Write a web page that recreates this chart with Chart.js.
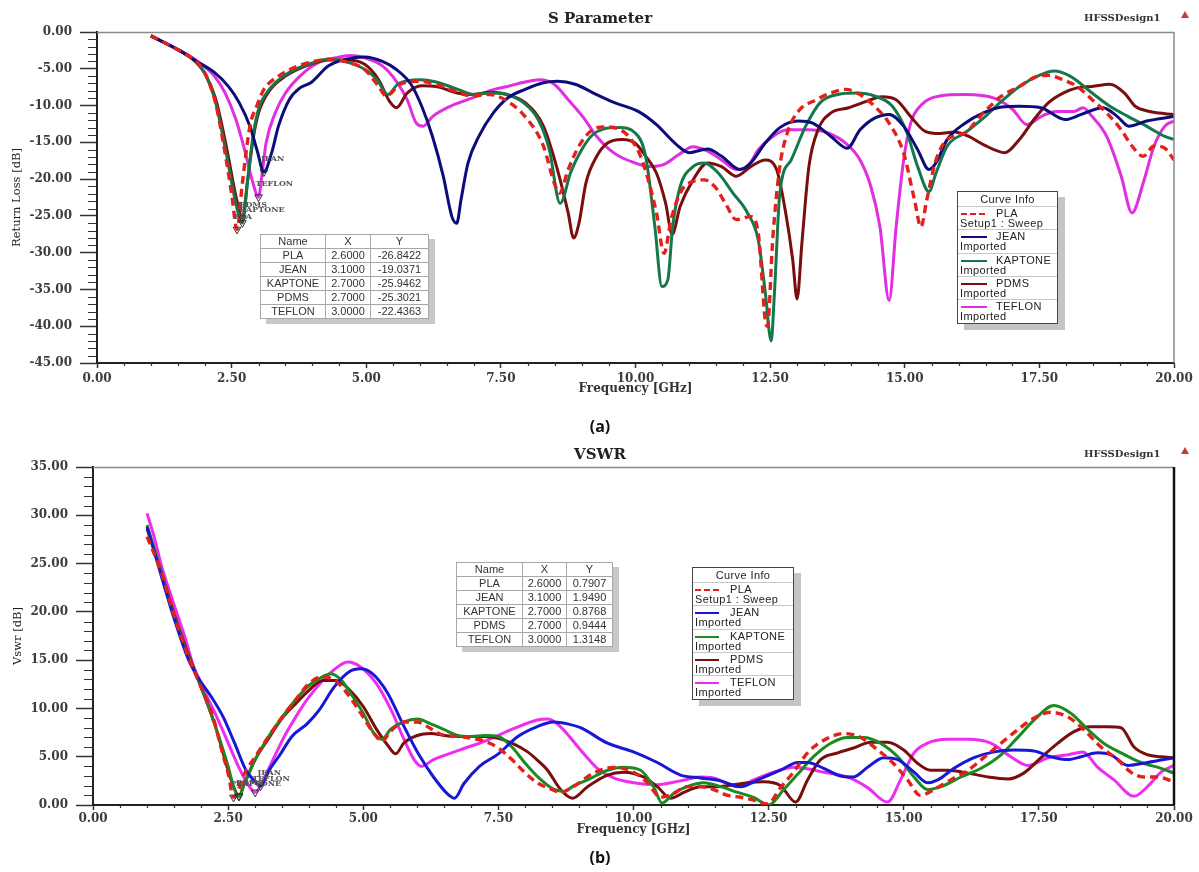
<!DOCTYPE html>
<html>
<head>
<meta charset="utf-8">
<script src="https://cdn.jsdelivr.net/npm/chart.js@4.4.0/dist/chart.umd.min.js"></script>
<style>
  html,body{margin:0;padding:0;background:#fff;}
  body{width:1199px;height:872px;position:relative;overflow:hidden;font-family:'Liberation Sans',Arial,sans-serif;}
  canvas{position:absolute;left:0;}
  .txt{position:absolute;white-space:nowrap;}
  .ttl{font-family:'DejaVu Serif',serif;font-weight:bold;font-size:15px;color:#222;text-align:center;width:300px;line-height:18px;}
  .des{font-family:'DejaVu Serif',serif;font-weight:bold;font-size:10px;color:#333;line-height:12px;}
  .cap{font-family:'Open Sans','DejaVu Sans',sans-serif;font-weight:bold;font-size:16px;color:#111;text-align:center;width:80px;line-height:20px;}
  .tri{position:absolute;width:0;height:0;border-left:4px solid transparent;border-right:4px solid transparent;border-bottom:7px solid #c83a3a;}
  .tb{position:absolute;border-collapse:collapse;table-layout:fixed;font-size:11px;color:#333;background:#fff;border:1.5px solid #555;box-shadow:6px 5px 0 #c8c8c8;}
  .tb td{border:1px solid #a8a8a8;height:13px;line-height:13px;padding:0;text-align:center;overflow:hidden;}
  .leg{position:absolute;background:#fff;border:1.5px solid #444;box-shadow:7px 6px 0 #c4c4c4;font-size:11px;color:#222;box-sizing:border-box;letter-spacing:0.4px;}
  .lh{height:14px;line-height:14px;text-align:center;border-bottom:1px solid #c8c8c8;}
  .le{height:23.3px;position:relative;border-bottom:1px solid #c8c8c8;box-sizing:border-box;}
  .le:last-child{border-bottom:none;}
  .le .l1{position:absolute;top:1px;line-height:11px;}
  .le .l2{position:absolute;left:2px;top:11px;line-height:11px;}
  .le .ls{position:absolute;top:6px;height:2px;}
</style>
</head>
<body>
<canvas id="c1" width="1199" height="440" style="top:0px"></canvas>
<canvas id="c2" width="1199" height="432" style="top:440px"></canvas>

<div class="txt ttl" style="left:450px;top:9px;">S Parameter</div>
<div class="txt des" style="left:1084px;top:12px;">HFSSDesign1</div>
<div class="tri" style="left:1181px;top:11px;"></div>
<div class="txt cap" style="left:560px;top:416px;">(a)</div>

<div class="txt ttl" style="left:450px;top:445px;">VSWR</div>
<div class="txt des" style="left:1084px;top:448px;">HFSSDesign1</div>
<div class="tri" style="left:1181px;top:447px;"></div>
<div class="txt cap" style="left:560px;top:847px;">(b)</div>

<script>
// ---------------- DATA ----------------
const seriesNames   = ['PLA', 'JEAN', 'KAPTONE', 'PDMS', 'TEFLON'];
const seriesSources = ['Setup1 : Sweep', 'Imported', 'Imported', 'Imported', 'Imported'];

// marker table values
const markerX     = [2.6, 3.1, 2.7, 2.7, 3.0];
const rlMarkerY   = [-26.8422, -19.0371, -25.9462, -25.3021, -22.4363];
const vswrMarkerY = [0.7907, 1.9490, 0.8768, 0.9444, 1.3148];

// axis ranges / tick steps
const freqRange = [0, 20];
const rlRange   = [-45, 0];
const vswrRange = [0, 35];

// (a) Return loss [dB] vs frequency [GHz]
const rlPLA_f = [1.0,1.5,1.75,2.0,2.2,2.4,2.5,2.6,2.7,2.84,2.97,3.1,3.37,3.64,3.97,4.3,4.6,4.97,5.23,5.37,5.63,5.96,6.3,6.63,6.96,7.29,7.62,7.95,8.29,8.49,8.59,8.75,8.95,9.2,9.45,9.72,9.92,10.12,10.39,10.53,10.66,10.86,11.07,11.27,11.47,11.67,11.87,12.14,12.28,12.41,12.45,12.55,12.68,12.82,13.02,13.36,13.63,13.9,14.17,14.44,14.71,14.98,15.18,15.3,15.41,15.58,15.79,16.12,16.46,16.8,17.13,17.47,17.67,17.94,18.2,18.48,18.75,19.02,19.22,19.43,19.63,19.83,20.0];
const rlPLA_v = [-0.5,-2.4,-3.5,-5.5,-9.6,-17.4,-22.0,-26.84,-20.5,-12.8,-10.0,-7.8,-6.0,-4.9,-4.1,-3.7,-4.0,-5.1,-7.4,-8.7,-7.1,-6.7,-7.1,-8.0,-8.7,-8.5,-9.4,-11.5,-15.5,-20.5,-21.9,-18.7,-15.5,-13.3,-12.9,-13.3,-14.6,-17.4,-24.6,-30.1,-25.5,-21.5,-20.3,-20.1,-21.0,-23.3,-25.5,-25.1,-27.4,-39.2,-40.0,-28.0,-18.3,-13.7,-10.8,-9.2,-8.3,-7.8,-8.5,-10.1,-12.4,-16.5,-22.8,-26.5,-22.8,-17.4,-14.6,-13.7,-11.0,-8.7,-7.4,-6.0,-5.9,-6.5,-7.4,-9.2,-11.0,-13.3,-15.5,-16.9,-15.5,-15.8,-17.4];

const rlJEAN_f = [1.0,1.5,1.85,2.18,2.44,2.64,2.84,2.97,3.1,3.24,3.37,3.57,3.77,3.97,4.3,4.63,4.97,5.3,5.56,5.83,6.03,6.23,6.43,6.59,6.68,6.76,6.89,7.09,7.36,7.62,7.95,8.29,8.55,8.88,9.22,9.61,10.05,10.39,10.73,11.0,11.34,11.6,11.94,12.14,12.41,12.68,13.02,13.29,13.63,13.93,14.17,14.44,14.71,14.98,15.24,15.45,15.58,15.79,16.12,16.46,16.8,17.13,17.53,17.98,18.28,18.68,18.95,19.16,19.49,20.0];
const rlJEAN_v = [-0.55,-2.4,-4.0,-5.5,-7.4,-9.6,-12.8,-16.0,-19.04,-16.5,-12.8,-9.2,-7.6,-6.9,-4.6,-3.7,-3.4,-4.0,-5.1,-7.1,-10.1,-14.2,-19.6,-25.1,-26.0,-22.8,-17.8,-14.2,-11.0,-9.0,-7.8,-6.9,-6.7,-7.1,-8.3,-9.6,-10.8,-12.6,-15.1,-16.4,-15.9,-16.9,-18.7,-17.8,-15.1,-13.0,-12.1,-12.4,-14.2,-15.8,-13.3,-11.7,-11.2,-12.8,-16.0,-18.7,-17.8,-14.6,-12.4,-11.0,-10.2,-10.1,-10.3,-11.9,-11.2,-10.3,-11.5,-12.8,-12.1,-11.5];

const rlKAP_f = [1.0,1.5,1.75,2.0,2.2,2.4,2.6,2.7,2.8,2.9,3.0,3.2,3.5,4.0,4.3,4.6,5.0,5.2,5.4,5.6,6.0,6.3,6.7,7.0,7.3,7.6,7.9,8.2,8.4,8.6,8.8,9.0,9.2,9.4,9.7,9.99,10.19,10.36,10.49,10.6,10.69,10.83,11.07,11.27,11.54,11.81,12.08,12.28,12.41,12.52,12.58,12.68,12.89,13.16,13.43,13.76,14.1,14.44,14.77,15.04,15.24,15.45,15.58,15.79,16.12,16.46,16.8,17.13,17.47,17.77,18.07,18.48,18.81,19.15,19.49,19.83,20.0];
const rlKAP_v = [-0.5,-2.4,-3.5,-5.6,-9.5,-16.5,-24.0,-25.95,-20.0,-14.0,-10.5,-7.8,-5.8,-4.2,-3.7,-4.0,-5.2,-6.5,-8.5,-7.0,-6.5,-6.8,-7.8,-8.5,-8.3,-8.5,-9.5,-12.0,-16.0,-23.3,-19.0,-16.0,-14.0,-13.2,-13.0,-13.7,-17.0,-26.5,-34.6,-33.7,-26.5,-21.0,-18.3,-17.8,-19.2,-21.9,-24.6,-28.3,-35.4,-42.0,-35.5,-21.9,-17.4,-12.8,-9.6,-8.5,-8.3,-8.7,-10.1,-13.7,-18.3,-21.7,-19.2,-15.5,-13.7,-11.7,-9.4,-7.4,-6.0,-5.3,-6.0,-8.3,-10.1,-11.5,-12.8,-14.2,-14.6];

const rlPDMS_f = [1.0,1.5,1.75,2.0,2.2,2.4,2.6,2.7,2.8,2.9,3.0,3.2,3.5,4.0,4.3,4.6,4.97,5.23,5.43,5.56,5.76,6.03,6.3,6.69,6.96,7.29,7.62,7.95,8.29,8.55,8.75,8.85,8.95,9.08,9.28,9.48,9.75,9.99,10.19,10.39,10.56,10.68,10.83,11.07,11.34,11.6,11.87,12.14,12.41,12.62,12.78,12.92,13.0,13.09,13.22,13.39,13.63,13.96,14.3,14.57,14.84,15.11,15.38,15.65,15.92,16.19,16.46,16.86,17.13,17.4,17.67,17.94,18.2,18.48,18.81,19.08,19.28,19.55,19.83,20.0];
const rlPDMS_v = [-0.5,-2.4,-3.5,-5.6,-9.0,-15.5,-23.0,-25.3,-20.0,-14.5,-11.0,-8.0,-6.0,-4.3,-3.8,-3.8,-4.4,-6.5,-9.4,-10.3,-8.3,-7.3,-7.4,-8.3,-8.5,-8.2,-8.5,-9.6,-12.8,-18.7,-24.6,-28.0,-26.0,-20.5,-16.9,-15.1,-14.6,-15.1,-16.9,-19.2,-23.3,-27.5,-23.7,-20.1,-17.8,-18.3,-19.6,-18.3,-17.4,-18.7,-24.2,-31.0,-36.3,-28.7,-18.3,-13.3,-11.0,-10.3,-9.4,-8.8,-9.2,-11.5,-13.5,-13.8,-13.6,-14.2,-15.3,-16.4,-14.6,-11.9,-9.6,-8.3,-7.6,-7.4,-7.1,-8.3,-10.1,-10.8,-11.1,-11.2];

const rlTEF_f = [1.0,1.5,1.91,2.18,2.38,2.58,2.74,2.88,3.0,3.06,3.14,3.31,3.5,3.77,4.1,4.44,4.7,4.97,5.3,5.56,5.76,5.93,6.06,6.23,6.56,6.96,7.29,7.62,7.95,8.22,8.49,8.75,9.02,9.28,9.61,9.99,10.26,10.53,10.8,11.07,11.34,11.6,11.87,12.08,12.28,12.55,12.82,13.22,13.56,13.9,14.17,14.37,14.54,14.71,14.84,14.98,15.11,15.31,15.65,16.12,16.66,17.0,17.27,17.53,17.81,18.14,18.31,18.48,18.75,19.02,19.22,19.43,19.63,19.83,20.0];
const rlTEF_v = [-0.55,-2.4,-4.2,-6.0,-8.3,-11.9,-16.0,-20.1,-22.44,-19.6,-15.1,-11.0,-8.3,-6.0,-4.2,-3.5,-3.2,-3.5,-4.6,-6.7,-9.2,-12.4,-12.8,-11.5,-10.1,-9.0,-8.0,-7.4,-6.8,-6.5,-7.1,-9.2,-11.5,-14.2,-16.5,-17.8,-18.3,-18.0,-16.7,-15.6,-16.2,-17.4,-18.7,-18.3,-16.0,-14.2,-13.3,-13.3,-13.7,-15.1,-17.4,-21.0,-26.5,-36.5,-26.5,-17.4,-12.4,-9.9,-8.7,-8.5,-9.0,-10.5,-12.6,-11.5,-10.8,-10.8,-10.3,-11.5,-14.2,-19.6,-24.6,-20.5,-15.5,-12.8,-12.1];

// (b) VSWR vs frequency [GHz]
const vsPLA_f = [1.0,1.27,1.49,1.77,2.0,2.2,2.4,2.5,2.6,2.7,2.8,3.0,3.25,3.5,3.75,4.0,4.25,4.5,4.75,5.0,5.2,5.35,5.5,5.75,6.0,6.25,6.5,6.75,7.0,7.25,7.5,7.75,8.0,8.25,8.5,8.65,8.89,9.26,9.63,10.0,10.26,10.5,10.74,10.99,11.24,11.48,11.74,11.98,12.22,12.48,12.72,12.96,13.22,13.52,13.89,14.2,14.52,14.81,15.07,15.31,15.56,15.87,16.19,16.48,16.8,17.11,17.41,17.72,18.04,18.33,18.65,18.96,19.2,19.44,19.7,20.0];
const vsPLA_v = [27.8,24.0,19.8,15.3,12.2,9.5,5.3,3.3,0.79,1.7,3.2,5.0,7.1,9.1,10.9,12.6,13.3,12.8,11.2,9.1,7.4,6.6,7.6,8.6,8.6,7.9,7.2,7.1,6.9,6.6,5.9,4.7,3.3,2.2,1.6,1.3,1.9,3.3,3.9,3.4,2.3,0.8,1.2,1.9,1.9,1.6,1.0,0.8,0.5,0.1,1.8,3.4,5.4,6.7,7.4,7.0,5.7,4.3,2.6,1.0,1.6,2.6,3.6,4.9,6.4,7.8,9.0,9.6,9.1,7.8,6.0,4.7,3.4,2.9,2.9,2.4];

const vsJEAN_f = [1.0,1.27,1.49,1.77,1.98,2.19,2.41,2.62,2.83,2.97,3.1,3.26,3.47,3.68,3.96,4.18,4.46,4.74,4.95,5.17,5.45,5.73,6.02,6.3,6.55,6.69,6.86,7.15,7.5,7.86,8.21,8.52,8.78,9.02,9.52,10.0,10.44,10.87,11.24,11.61,11.98,12.3,12.72,13.04,13.22,13.52,13.83,14.07,14.33,14.63,14.89,15.19,15.44,15.63,15.93,16.3,16.67,17.04,17.41,17.72,18.04,18.28,18.59,18.83,19.15,19.51,20.0];
const vsJEAN_v = [28.8,23.6,19.5,15.0,12.9,11.2,9.1,6.4,3.6,2.6,1.95,3.6,5.3,7.1,8.4,9.8,12.2,13.8,14.1,13.6,11.6,8.4,5.3,2.9,1.2,0.7,2.2,4.0,5.3,7.1,8.1,8.6,8.4,8.0,6.4,5.5,4.4,3.1,2.8,2.5,1.9,2.6,3.6,4.4,4.4,3.8,3.0,2.9,3.9,4.9,4.7,3.4,2.3,2.6,3.8,4.9,5.5,5.7,5.6,5.0,4.7,5.0,5.4,5.2,4.1,4.4,4.9];

const vsKAP_f = [1.0,1.27,1.5,1.77,2.0,2.25,2.5,2.6,2.7,2.8,3.0,3.25,3.5,3.75,4.0,4.25,4.4,4.6,4.75,5.0,5.2,5.35,5.5,5.75,6.0,6.25,6.5,6.75,7.0,7.25,7.5,7.75,8.0,8.25,8.5,8.7,8.9,9.15,9.52,9.81,10.13,10.37,10.53,10.74,10.99,11.3,11.61,11.93,12.22,12.5,12.78,13.04,13.33,13.65,13.96,14.26,14.57,14.89,15.19,15.44,15.69,16.06,16.43,16.8,17.11,17.41,17.78,18.09,18.41,18.7,19.02,19.39,19.76,20.0];
const vsKAP_v = [29.0,24.0,19.5,15.3,12.2,8.4,4.0,1.9,0.88,2.2,4.7,7.1,9.1,10.9,12.4,13.3,13.6,12.9,11.7,9.5,7.4,6.8,7.8,8.6,8.9,8.4,7.8,7.2,7.1,7.2,7.1,6.0,4.3,2.8,1.7,1.4,2.0,2.6,3.6,3.9,3.6,1.9,0.2,1.2,1.9,2.3,1.9,1.3,0.8,0.0,1.6,3.2,5.0,6.4,7.0,7.0,6.4,5.0,2.9,1.6,1.9,2.9,3.8,5.2,7.0,8.8,10.3,9.5,7.8,6.4,5.4,4.4,3.8,3.3];

const vsPDMS_f = [1.0,1.27,1.5,1.77,2.0,2.25,2.5,2.6,2.7,2.8,3.0,3.25,3.5,3.75,4.0,4.25,4.5,4.75,5.0,5.25,5.45,5.6,5.75,6.0,6.25,6.5,6.75,7.0,7.25,7.5,7.75,8.04,8.25,8.41,8.65,8.87,9.15,9.52,9.81,10.19,10.44,10.69,10.93,11.24,11.56,11.85,12.11,12.41,12.72,13.0,13.22,13.46,13.78,14.07,14.39,14.7,15.0,15.26,15.5,15.81,16.19,16.56,16.93,17.22,17.54,17.85,18.15,18.46,18.78,19.02,19.26,19.51,19.76,20.0];
const vsPDMS_v = [28.6,24.0,19.8,15.5,12.2,8.4,3.6,1.9,0.94,2.2,4.7,6.9,9.0,10.5,11.9,12.9,12.9,11.9,10.2,7.8,6.2,5.3,6.4,7.2,7.4,7.2,7.1,7.1,7.1,6.9,6.4,5.5,4.5,3.6,1.6,0.7,1.9,3.1,3.4,2.9,1.9,0.7,1.3,1.9,1.9,2.1,2.3,2.4,2.0,0.3,2.6,4.7,5.4,5.9,6.5,6.5,5.7,4.3,3.6,3.6,3.3,2.9,2.7,3.3,4.9,6.4,7.6,8.1,8.1,8.0,6.0,5.2,5.0,4.9];

const vsTEF_f = [1.0,1.13,1.27,1.49,1.7,1.84,2.05,2.26,2.48,2.69,2.87,3.0,3.15,3.33,3.54,3.75,3.96,4.25,4.46,4.71,4.95,5.24,5.52,5.73,5.94,6.08,6.3,6.79,7.29,7.78,8.22,8.42,8.65,9.02,9.33,9.63,10.0,10.44,10.87,11.24,11.48,11.93,12.22,12.59,12.96,13.52,14.0,14.33,14.7,14.94,15.19,15.44,15.81,16.19,16.61,16.98,17.3,17.67,18.04,18.31,18.59,18.89,19.26,19.51,19.76,20.0];
const vsTEF_v = [30.2,27.8,24.7,20.9,17.4,14.7,11.9,9.5,6.7,4.0,2.1,1.31,2.6,4.7,7.1,9.1,10.9,12.9,14.0,14.8,14.3,12.6,9.8,7.1,4.7,4.0,4.7,5.7,6.7,7.9,8.8,8.9,8.1,5.7,3.8,2.8,2.3,2.1,2.5,2.9,2.8,1.9,2.6,3.4,3.9,3.4,2.8,1.8,0.3,2.6,5.4,6.4,6.8,6.8,6.4,5.0,4.1,4.9,5.2,5.5,3.9,2.6,0.9,1.9,3.4,4.1];

// ---------------- STYLE ----------------
const topColors = ['#e3211c', '#0c0c7a', '#14784b', '#7a0d0d', '#e02ee0'];
const botColors = ['#e3211c', '#1818d4', '#1b8a21', '#7a0d0d', '#f02cf0'];

const rlSeries = [[rlPLA_f, rlPLA_v], [rlJEAN_f, rlJEAN_v], [rlKAP_f, rlKAP_v], [rlPDMS_f, rlPDMS_v], [rlTEF_f, rlTEF_v]];
const vsSeries = [[vsPLA_f, vsPLA_v], [vsJEAN_f, vsJEAN_v], [vsKAP_f, vsKAP_v], [vsPDMS_f, vsPDMS_v], [vsTEF_f, vsTEF_v]];

[...rlSeries, ...vsSeries].forEach(([f, v], i) => {
  if (f.length !== v.length) throw new Error('length mismatch in series ' + i + ': ' + f.length + ' vs ' + v.length);
});

function pts(f, v) { return f.map((x, i) => ({ x: x, y: v[i] })); }

function makeDatasets(series, colors, mY) {
  const ds = series.map(([f, v], i) => ({
    label: seriesNames[i],
    data: pts(f, v),
    borderColor: colors[i],
    backgroundColor: colors[i],
    borderWidth: i === 0 ? 3.4 : 3,
    borderDash: i === 0 ? [8, 5] : [],
    pointRadius: 0,
    fill: false,
    cubicInterpolationMode: 'monotone',
    order: 0
  }));
  ds.push({
    label: 'markers',
    data: pts(markerX, mY),
    showLine: false,
    pointStyle: 'triangle',
    rotation: 180,
    pointRadius: 4.5,
    pointBorderWidth: 1,
    pointBorderColor: '#333',
    pointBackgroundColor: 'rgba(0,0,0,0)',
    borderColor: '#333',
    order: -1
  });
  return ds;
}

const decor = {
  id: 'decor',
  afterDraw(chart, args, o) {
    const { ctx, chartArea: a, scales: { x, y } } = chart;
    ctx.save();
    // frame (top and right)
    ctx.strokeStyle = o.frameColor;
    ctx.lineWidth = o.frameWidth;
    ctx.beginPath();
    ctx.moveTo(a.left, a.top + 0.5);
    ctx.lineTo(a.right, a.top + 0.5);
    ctx.stroke();
    ctx.strokeStyle = o.rightColor;
    ctx.lineWidth = o.rightWidth;
    ctx.beginPath();
    ctx.moveTo(a.right, a.top);
    ctx.lineTo(a.right, a.bottom);
    ctx.stroke();
    // minor ticks
    ctx.strokeStyle = '#333';
    ctx.lineWidth = 1.2;
    ctx.beginPath();
    const nx = Math.round((x.max - x.min) / o.xMinor);
    for (let i = 0; i <= nx; i++) {
      const v = x.min + i * o.xMinor;
      const r = v / o.xMajor;
      if (Math.abs(r - Math.round(r)) < 1e-6) continue;
      const px = Math.round(x.getPixelForValue(v)) + 0.5;
      ctx.moveTo(px, a.bottom);
      ctx.lineTo(px, a.bottom + o.xMinorLen);
    }
    const ny = Math.round((y.max - y.min) / o.yMinor);
    for (let i = 0; i <= ny; i++) {
      const v = y.min + i * o.yMinor;
      const r = v / o.yMajor;
      if (Math.abs(r - Math.round(r)) < 1e-6) continue;
      const py = Math.round(y.getPixelForValue(v)) + 0.5;
      ctx.moveTo(a.left, py);
      ctx.lineTo(a.left - o.yMinorLen, py);
    }
    ctx.stroke();
    // marker labels
    const meta = chart.getDatasetMeta(chart.data.datasets.length - 1);
    ctx.font = 'bold 8px "DejaVu Serif"';
    ctx.fillStyle = '#555';
    ctx.textAlign = 'left';
    ctx.textBaseline = 'middle';
    meta.data.forEach((p, i) => {
      ctx.fillText(seriesNames[i], p.x - 3, p.y - 13);
    });
    ctx.restore();
  }
};

function makeChart(id, series, colors, mY, cfg) {
  const tickFont = { family: 'DejaVu Serif', size: 12, weight: 'bold' };
  return new Chart(document.getElementById(id), {
    type: 'line',
    data: { datasets: makeDatasets(series, colors, mY) },
    plugins: [decor],
    options: {
      responsive: false,
      animation: false,
      devicePixelRatio: 1,
      layout: { padding: { top: cfg.padTop, right: cfg.padRight, left: 0, bottom: 0 } },
      plugins: {
        legend: { display: false },
        tooltip: { enabled: false },
        decor: {
          frameColor: '#8a8a8a', frameWidth: 1.5,
          rightColor: cfg.rightColor, rightWidth: cfg.rightWidth,
          xMinor: 0.5, xMajor: 2.5, xMinorLen: 3,
          yMinor: 1, yMajor: 5, yMinorLen: 9
        }
      },
      scales: {
        x: {
          type: 'linear',
          min: freqRange[0], max: freqRange[1],
          afterFit: s => { s.height = cfg.xH; s.paddingLeft = 0; s.paddingRight = 0; },
          ticks: {
            stepSize: 2.5, autoSkip: false, maxRotation: 0, padding: cfg.xTickPad,
            color: '#3c3c3c', font: tickFont,
            callback: v => Number(v).toFixed(2)
          },
          grid: { drawOnChartArea: false, drawTicks: true, tickLength: 5, tickColor: '#333', tickWidth: 1.5 },
          border: { display: true, color: '#222', width: 2 },
          title: {
            display: true, text: 'Frequency [GHz]', color: '#333',
            font: { family: 'DejaVu Serif', size: 12, weight: 'bold' },
            padding: { top: 0, bottom: cfg.xTitlePad }
          }
        },
        y: {
          type: 'linear',
          min: cfg.yMin, max: cfg.yMax,
          afterFit: s => { s.width = cfg.yW; s.paddingTop = 0; s.paddingBottom = 0; },
          ticks: {
            stepSize: 5, autoSkip: false, padding: 8,
            color: '#3c3c3c', font: tickFont,
            callback: v => Number(v).toFixed(2)
          },
          grid: { drawOnChartArea: false, drawTicks: true, tickLength: 17, tickColor: '#333', tickWidth: 1.5 },
          border: { display: true, color: '#222', width: 2 },
          title: {
            display: true, text: cfg.yTitle, color: '#222',
            font: { family: 'DejaVu Serif', size: 11.5, weight: 'normal' },
            padding: { top: cfg.yTitlePad, bottom: 0 }
          }
        }
      }
    }
  });
}

makeChart('c1', rlSeries, topColors, rlMarkerY, {
  padTop: 32, padRight: 25, xH: 77, yW: 97,
  yMin: rlRange[0], yMax: rlRange[1], yTitle: 'Return Loss [dB]',
  xTickPad: 4, xTitlePad: 43.8, yTitlePad: 10,
  rightColor: '#8a8a8a', rightWidth: 1.5
});

makeChart('c2', vsSeries, botColors, vswrMarkerY, {
  padTop: 27, padRight: 25, xH: 67, yW: 93,
  yMin: vswrRange[0], yMax: vswrRange[1], yTitle: 'Vswr [dB]',
  xTickPad: 2, xTitlePad: 34.8, yTitlePad: 11,
  rightColor: '#111', rightWidth: 2.5
});

// ---------------- marker tables ----------------
function buildTable(left, top, colW, yVals) {
  const t = document.createElement('table');
  t.className = 'tb';
  t.style.left = left + 'px';
  t.style.top = top + 'px';
  t.style.width = colW.reduce((s, w) => s + w, 0) + 'px';
  let h = '<colgroup>' + colW.map(w => '<col style="width:' + w + 'px">').join('') + '</colgroup>';
  h += '<tr><td>Name</td><td>X</td><td>Y</td></tr>';
  seriesNames.forEach((n, i) => {
    h += '<tr><td>' + n + '</td><td>' + markerX[i].toFixed(4) + '</td><td>' + yVals[i].toFixed(4) + '</td></tr>';
  });
  t.innerHTML = h;
  document.body.appendChild(t);
}
buildTable(260, 234, [65, 45, 58], rlMarkerY);
buildTable(456, 562, [66, 44, 46], vswrMarkerY);

// ---------------- curve-info legends ----------------
function buildLegend(left, top, width, colors, sL, sW, tL) {
  const d = document.createElement('div');
  d.className = 'leg';
  d.style.left = left + 'px';
  d.style.top = top + 'px';
  d.style.width = width + 'px';
  let h = '<div class="lh">Curve Info</div>';
  seriesNames.forEach((n, i) => {
    const bg = i === 0
      ? 'repeating-linear-gradient(90deg,' + colors[i] + ' 0 6px,transparent 6px 9px)'
      : colors[i];
    h += '<div class="le"><div class="ls" style="left:' + sL + 'px;width:' + sW + 'px;background:' + bg + '"></div>' +
         '<div class="l1" style="left:' + tL + 'px">' + n + '</div>' +
         '<div class="l2">' + seriesSources[i] + '</div></div>';
  });
  d.innerHTML = h;
  document.body.appendChild(d);
}
buildLegend(957, 191, 101, topColors, 3, 26, 38);
buildLegend(692, 567, 102, botColors, 2, 24, 37);
</script>
</body>
</html>
